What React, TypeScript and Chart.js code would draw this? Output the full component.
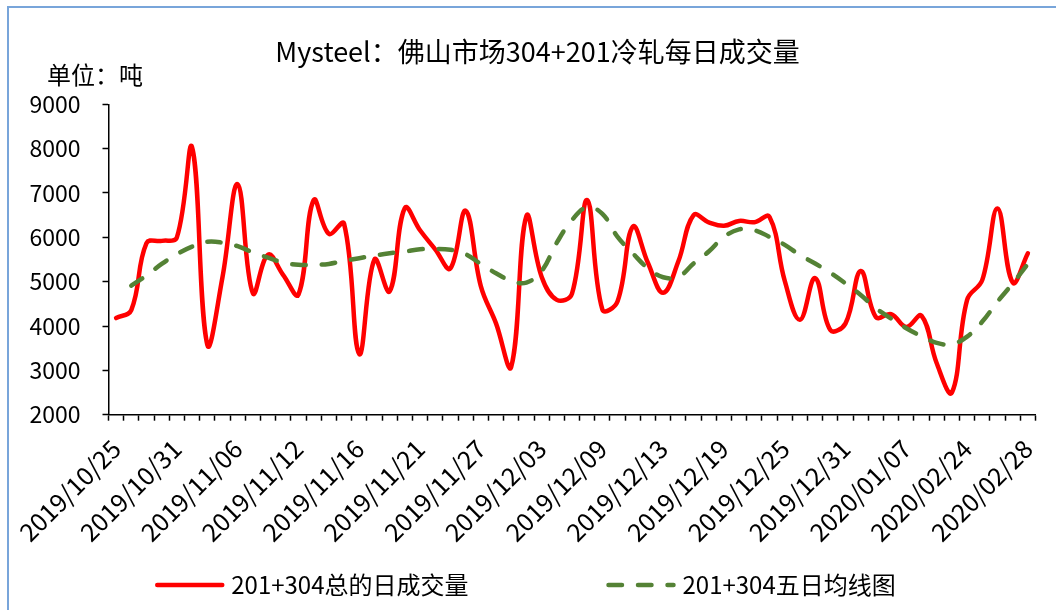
import React, { useEffect, useRef } from "react";
import { Chart, registerables } from "chart.js";

Chart.register(...registerables);

const FONT = '"Noto Sans CJK SC", "Noto Sans", sans-serif';

const TITLE = "Mysteel：佛山市场304+201冷轧每日成交量";
const UNIT = "单位：吨";

const tickLabels = [
  "2019/10/25", "2019/10/31", "2019/11/06", "2019/11/12", "2019/11/16", "2019/11/21",
  "2019/11/27", "2019/12/03", "2019/12/09", "2019/12/13", "2019/12/19", "2019/12/25",
  "2019/12/31", "2020/01/07", "2020/02/24", "2020/02/28",
];
const labelEvery = 4;

const dailyVolume = [
  4180, 4360, 5870, 5920, 6000, 8030, 3580, 5100, 7200, 4740,
  5610, 5150, 4710, 6840, 6080, 6310, 3370, 5500, 4780, 6660,
  6160, 5730, 5300, 6600, 4900, 4060, 3080, 6480, 5110, 4590,
  4730, 6840, 4370, 4560, 6240, 5420, 4750, 5460, 6500, 6340,
  6260, 6370, 6340, 6460, 5020, 4140, 5080, 3910, 4060, 5240,
  4200, 4270, 3980, 4230, 3160, 2500, 4590, 5040, 6650, 4980,
  5640,
];

const fiveDayAvg = [
  null, 4910, 5140, 5400, 5620, 5790, 5900, 5880, 5800, 5660,
  5540, 5430, 5380, 5380, 5400, 5470, 5530, 5590, 5640, 5680,
  5730, 5740, 5720, 5620, 5400, 5190, 5020, 4980, 5240, 5880,
  6390, 6680, 6530, 6010, 5640, 5300, 5100, 5110, 5410, 5680,
  6010, 6180, 6160, 6010, 5830, 5600, 5410, 5200, 4960, 4700,
  4400, 4170, 3950, 3770, 3620, 3590, 3760, 4100, 4550, 4960,
  5400,
];

const seriesNames = ["201+304总的日成交量", "201+304五日均线图"];

const yMin = 2000;
const yMax = 9000;
const yStep = 1000;

const categories = dailyVolume.map((_, i) =>
  i % labelEvery === 0 ? tickLabels[i / labelEvery] ?? "" : ""
);

const textPlugin = {
  id: "customTexts",
  afterDraw(chart: any) {
    const ctx = chart.ctx as CanvasRenderingContext2D;
    ctx.save();
    ctx.fillStyle = "#000";
    ctx.textBaseline = "middle";
    ctx.font = `27px ${FONT}`;
    ctx.textAlign = "center";
    ctx.fillText(TITLE, 537.5, 52);
    ctx.font = `24px ${FONT}`;
    ctx.textAlign = "left";
    ctx.fillText(UNIT, 47, 75);

    // legend
    const sampleLen = 69;
    const textGap = 7;
    const itemGap = 138;
    const legendY = 585;
    ctx.font = `24px ${FONT}`;
    const ds = chart.data.datasets;
    const widths = ds.map((d: any) => sampleLen + textGap + ctx.measureText(d.label).width);
    const total = widths.reduce((a: number, b: number) => a + b, 0) + itemGap * (ds.length - 1);
    let x = 525.5 - total / 2;
    ds.forEach((d: any, i: number) => {
      ctx.save();
      ctx.beginPath();
      ctx.rect(x - 3, legendY - 10, sampleLen + 6, 20);
      ctx.clip();
      ctx.beginPath();
      ctx.strokeStyle = d.borderColor;
      ctx.lineWidth = d.borderWidth;
      ctx.lineCap = "round";
      ctx.setLineDash(d.borderDash || []);
      ctx.moveTo(x + 2, legendY);
      ctx.lineTo(x + sampleLen - 2, legendY);
      ctx.stroke();
      ctx.restore();
      ctx.fillStyle = "#000";
      ctx.textAlign = "left";
      ctx.textBaseline = "middle";
      ctx.fillText(d.label, x + sampleLen + textGap, legendY);
      x += widths[i] + itemGap;
    });
    ctx.restore();
  },
};

export default function App() {
  const ref = useRef<HTMLCanvasElement>(null);

  useEffect(() => {
    if (!ref.current) return;
    Chart.defaults.font.family = FONT;
    const chart = new Chart(ref.current, {
      type: "line",
      data: {
        labels: categories,
        datasets: [
          {
            label: seriesNames[0],
            data: dailyVolume,
            borderColor: "#FF0000",
            backgroundColor: "#FF0000",
            borderWidth: 4.5,
            tension: 0.4,
            pointRadius: 0,
            fill: false,
            borderCapStyle: "round",
            borderJoinStyle: "round",
            order: 1,
          },
          {
            label: seriesNames[1],
            data: fiveDayAvg,
            borderColor: "#548235",
            backgroundColor: "#548235",
            borderWidth: 4.5,
            borderDash: [13.5, 16],
            tension: 0.4,
            pointRadius: 0,
            fill: false,
            borderCapStyle: "round",
            borderJoinStyle: "round",
            order: 0,
          },
        ],
      },
      options: {
        responsive: false,
        animation: false,
        devicePixelRatio: 1,
        layout: { padding: { left: 0, top: 104.3, right: 20.5, bottom: 45.3 } },
        plugins: {
          legend: { display: false },
          title: { display: false },
          tooltip: { enabled: false },
        },
        scales: {
          x: {
            type: "category",
            offset: true,
            afterFit: (scale: any) => {
              scale.height = 150;
              scale.paddingLeft = 0;
              scale.paddingRight = 0;
            },
            grid: {
              offset: true,
              drawOnChartArea: false,
              drawTicks: true,
              tickLength: 6,
              tickColor: "#000",
              tickWidth: 1.5,
            },
            border: { display: true, color: "#000", width: 1.5 },
            ticks: {
              autoSkip: false,
              minRotation: 45,
              maxRotation: 45,
              padding: 13,
              color: "#000",
              font: { size: 25, family: FONT },
              callback: (_v: any, i: number) => categories[i],
            },
          },
          y: {
            min: yMin,
            max: yMax,
            afterFit: (scale: any) => {
              scale.width = 108.5;
              scale.paddingTop = 0;
              scale.paddingBottom = 0;
            },
            grid: {
              drawOnChartArea: false,
              drawTicks: true,
              tickLength: 6,
              tickColor: "#000",
              tickWidth: 1.5,
            },
            border: { display: true, color: "#000", width: 1.5 },
            ticks: {
              stepSize: yStep,
              padding: 22,
              color: "#000",
              font: { size: 23, family: FONT },
              callback: (v: any) => String(v),
            },
          },
        },
      },
      plugins: [textPlugin],
    } as any);
    return () => chart.destroy();
  }, []);

  return (
    <div
      style={{
        position: "fixed",
        left: 0,
        top: 0,
        width: 1056,
        height: 610,
        overflow: "hidden",
        background: "#fff",
      }}
    >
      <div
        style={{
          position: "absolute",
          left: 7,
          top: 6,
          width: 1300,
          height: 900,
          borderLeft: "2px solid #78A5DA",
          borderTop: "2px solid #78A5DA",
        }}
      />
      <canvas
        ref={ref}
        width={1056}
        height={610}
        style={{ position: "absolute", left: 0, top: 0, width: 1056, height: 610 }}
      />
    </div>
  );
}
